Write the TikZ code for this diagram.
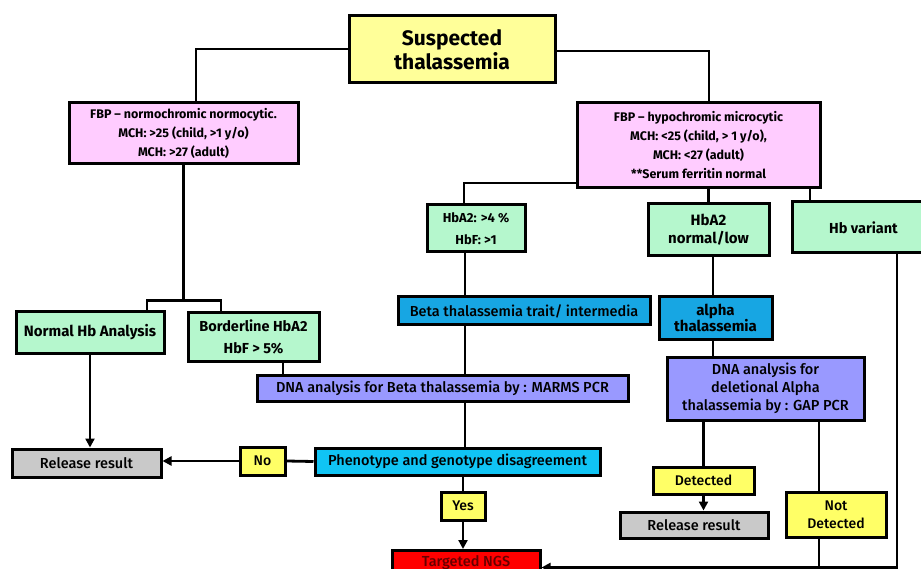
\documentclass[tikz,border=0pt]{standalone}
\usepackage{fontspec}
\setmainfont{Fira Sans}[UprightFont={* Medium},BoldFont={* Bold}]
\usetikzlibrary{positioning}
\usetikzlibrary{arrows.meta}

\definecolor{titleyel}{HTML}{FFFF99}
\definecolor{fbppink}{HTML}{FFCCFF}
\definecolor{hbgreen}{HTML}{B5F7CD}
\definecolor{thalblue}{HTML}{17A6E3}
\definecolor{phenocyan}{HTML}{10C4F4}
\definecolor{dnalav}{HTML}{9999FF}
\definecolor{answyel}{HTML}{FFFF66}
\definecolor{relgray}{HTML}{C9C9C9}
\definecolor{ngsred}{HTML}{FF0000}

\tikzset{
  box/.style={draw=black,line width=3pt,align=center,inner sep=0pt,font=\fontsize{14.5}{18}\selectfont},
  bbox/.style={box,font=\bfseries\fontsize{14.5}{17}\selectfont},
  link/.style={line width=2.8pt},
  toplink/.style={line width=2pt},
  arr/.style={link,-{Triangle[length=9pt,width=9pt]}}
}

\begin{document}
\begin{tikzpicture}[x=1pt,y=-1pt]
 \clip (0,0) rectangle (921,569);
 \fill[white] (0,0) rectangle (921,569);

 % first level
 \node[bbox,fill=titleyel,minimum width=206,minimum height=67,font=\bfseries\fontsize{21}{24}\selectfont] (title) at (452,49.5) {Suspected\\thalassemia};
 \node[bbox,fill=fbppink,minimum width=229,minimum height=61,font=\bfseries\fontsize{12.5}{19}\selectfont] (fbpn) at (183.5,133.5) {FBP -- normochromic normocytic.\\MCH: {>}25 (child, {>}1 y/o)\\MCH: {>}27 (adult)};
 \node[bbox,fill=fbppink,minimum width=243,minimum height=85,font=\bfseries\fontsize{12.5}{19}\selectfont] (fbph) at (698.5,145.5) {FBP -- hypochromic microcytic\\MCH: {<}25 (child, {>} 1 y/o),\\MCH: {<}27 (adult)\\**Serum ferritin normal};

 % hb analysis
 \node[bbox,fill=hbgreen,minimum width=98,minimum height=47,font=\bfseries\fontsize{13}{22}\selectfont] (hbaup) at (476,228.5) {HbA2: {>}4 \%\\HbF: {>}1};
 \node[bbox,fill=hbgreen,minimum width=121,minimum height=52,font=\bfseries\fontsize{15}{18}\selectfont] (hbanl) at (708.5,230) {HbA2\\normal/low};
 \node[bbox,fill=hbgreen,minimum width=143,minimum height=51] (hbvar) at (863.5,227.5) {Hb variant};
 \node[bbox,fill=hbgreen,minimum width=148,minimum height=41,font=\bfseries\fontsize{15}{17}\selectfont] (normal) at (90,332.5) {Normal Hb Analysis};
 \node[bbox,fill=hbgreen,minimum width=131,minimum height=48,font=\bfseries\fontsize{14.5}{22}\selectfont] (border) at (253.5,337) {Borderline HbA2\\HbF {>} 5\%};

 % thalassemia type
 \node[box,fill=thalblue,minimum width=252,minimum height=28] (betatr) at (524,311) {Beta thalassemia trait/ intermedia};
 \node[bbox,fill=thalblue,minimum width=113,minimum height=42,font=\bfseries\fontsize{15}{16}\selectfont] (alpha) at (715.5,318) {alpha\\thalassemia};

 % dna analysis
 \node[box,fill=dnalav,minimum width=371,minimum height=26] (dnab) at (442.5,388) {DNA analysis for Beta thalassemia by : MARMS PCR};
 \node[box,fill=dnalav,minimum width=197,minimum height=63] (dnaa) at (765.5,388.5) {DNA analysis for\\deletional Alpha\\thalassemia by : GAP PCR};

 % results
 \node[box,fill=phenocyan,minimum width=285,minimum height=27] (pheno) at (457.5,461.5) {Phenotype and genotype disagreement};
 \node[box,fill=answyel,minimum width=45,minimum height=28,font=\fontsize{14}{18}\selectfont] (no) at (262.5,461) {No};
 \node[box,fill=answyel,minimum width=44,minimum height=28,font=\fontsize{14}{18}\selectfont] (yes) at (463,506) {Yes};
 \node[box,fill=relgray,minimum width=149,minimum height=28] (rel1) at (86.5,463) {Release result};
 \node[box,fill=answyel,minimum width=101,minimum height=27,font=\fontsize{14}{18}\selectfont] (det) at (703.5,480.5) {Detected};
 \node[box,fill=relgray,minimum width=148,minimum height=26] (rel2) at (694,525) {Release result};
 \node[box,fill=answyel,minimum width=100,minimum height=45,font=\fontsize{14}{18}\selectfont] (notdet) at (836,514.5) {Not\\Detected};
 \node[box,fill=ngsred,minimum width=148,minimum height=34,text height=10pt,text depth=12pt,text=black!60!red,anchor=north] (ngs) at (466,549) {Targeted NGS};

 % connectors
 \draw[toplink] (title.west) -| ([xshift=12.5]fbpn.north);
 \draw[toplink] ([yshift=-2]title.east) -| ([xshift=10]fbph.north);
 \coordinate (split) at ([yshift=-135]fbpn.south);
 \draw[link] (fbpn.south) -- (split);
 \draw[link] ([xshift=57]normal.north) |- (split) -| ([xshift=-32.5]border.north);
 \draw[link] ([xshift=29.5]border.south) -- ([xshift=29.5]border.south |- dnab.north);
 \draw[toplink] ([yshift=-37.5]fbph.west) -| ([xshift=-12]hbaup.north);
 \coordinate (col) at ([xshift=-11]hbaup.south);
 \draw[link] (col) -- (col |- betatr.north);
 \draw[link] (col |- betatr.south) -- (col |- dnab.north);
 \draw[link] (col |- dnab.south) -- (col |- pheno.north);
 \draw[link] (yes.north |- pheno.south) -- (yes.north);
 \draw[arr] (yes.south) -- (yes.south |- ngs.north);
 \draw[link] (pheno.west) -- (no.east);
 \draw[arr] (no.west) -- (rel1.east |- no.west);
 \draw[arr] (normal.south) -- (normal.south |- rel1.north);
 \draw[link] (hbanl.north |- fbph.south) -- (hbanl.north);
 \draw[link] ([xshift=-53.5]hbvar.north |- fbph.south) -- ([xshift=-53.5]hbvar.north);
 \draw[link] ([xshift=-2.5]alpha.north |- hbanl.south) -- ([xshift=-2.5]alpha.north);
 \draw[link] ([xshift=-2.5]alpha.south) -- ([xshift=-2.5]alpha.south |- dnaa.north);
 \draw[link] (det.north |- dnaa.south) -- (det.north);
 \draw[arr] (det.south) -- (det.south |- rel2.north);
 \draw[link] ([xshift=-17]notdet.north |- dnaa.south) -- ([xshift=-17]notdet.north);
 \draw[link] ([xshift=-17]notdet.south) -- ([xshift=-17]notdet.south |- ngs.east);
 \draw[arr] ([xshift=33.5]hbvar.south) |- (ngs.east);
\end{tikzpicture}
\end{document}
